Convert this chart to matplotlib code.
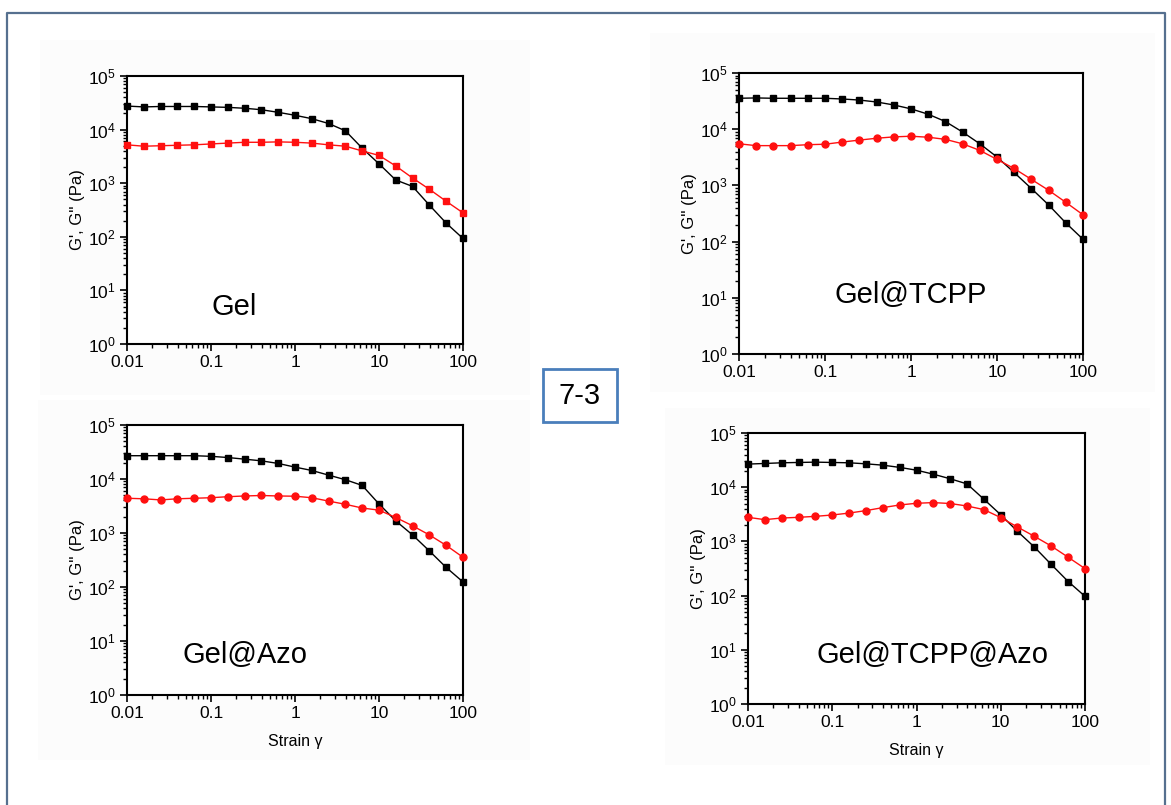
import matplotlib
matplotlib.use('Agg')
import matplotlib.pyplot as plt
from matplotlib.patches import Rectangle

plt.rcParams['font.family'] = ['Liberation Sans', 'DejaVu Sans']
plt.rcParams['mathtext.fontset'] = 'custom'
plt.rcParams['mathtext.rm'] = 'Liberation Sans'

W, H = 1171, 805

# strain amplitude (5 points per decade)
strain = [0.01, 0.0158, 0.0251, 0.0398, 0.0631, 0.1, 0.158, 0.251, 0.398, 0.631,
          1, 1.58, 2.51, 3.98, 6.31, 10, 15.8, 25.1, 39.8, 63.1, 100]

# Gel
gel_G1 = [27500, 26500, 27000, 27000, 27000, 26500, 26000, 25000, 23500, 21000,
          18500, 16000, 13000, 9500, 4500, 2300, 1150, 870, 390, 180, 93]
gel_G2 = [5200, 4900, 5000, 5100, 5200, 5400, 5600, 5800, 5800, 5900,
          5800, 5600, 5200, 4900, 4000, 3300, 2100, 1250, 770, 460, 280]
# Gel@TCPP
tcpp_G1 = [35500, 36000, 35500, 35500, 35500, 35500, 34500, 33000, 30500, 27000,
           23000, 18500, 13700, 8900, 5500, 3200, 1700, 880, 450, 215, 110]
tcpp_G2 = [5500, 5100, 5100, 5100, 5300, 5400, 5900, 6400, 6900, 7300,
           7500, 7200, 6600, 5500, 4200, 2900, 2000, 1280, 820, 500, 300]
# Gel@Azo
azo_G1 = [27000, 27000, 27000, 27000, 27000, 26300, 25000, 23300, 21700, 19400,
          16600, 14400, 11800, 9700, 7600, 3450, 1680, 920, 465, 230, 124]
azo_G2 = [4400, 4300, 4100, 4300, 4400, 4500, 4700, 4850, 4950, 4850,
          4800, 4500, 3900, 3400, 2900, 2650, 1940, 1360, 920, 590, 355]
# Gel@TCPP@Azo
both_G1 = [26700, 27400, 28200, 28600, 29000, 28600, 28200, 27000, 25500, 23200,
           20600, 17400, 14300, 11500, 6000, 3100, 1530, 785, 375, 182, 97]
both_G2 = [2780, 2520, 2700, 2780, 2900, 3070, 3330, 3700, 4200, 4700,
           5050, 5200, 5000, 4500, 3860, 2750, 1840, 1240, 820, 510, 315]

names = ['Gel', 'Gel@TCPP', 'Gel@Azo', 'Gel@TCPP@Azo']
g1_sets = [gel_G1, tcpp_G1, azo_G1, both_G1]
g2_sets = [gel_G2, tcpp_G2, azo_G2, both_G2]
red_marker = ['s', 'o', 'o', 'o']

# axes boxes in pixels: left, top, right, bottom
boxes = [(127, 76, 463, 344), (739, 73, 1083, 354),
         (127, 425, 463, 695), (748, 433, 1085, 704)]
# label centres in pixels
label_pos = [(234, 307), (911, 295), (245, 655), (932, 655)]
# faint backgrounds of the pasted pictures
bg_boxes = [(40, 40, 530, 395), (650, 33, 1155, 392),
            (38, 400, 530, 760), (665, 408, 1150, 765)]

fig = plt.figure(figsize=(W / 100, H / 100), dpi=100)
fig.patch.set_facecolor('white')

def fx(x):
    return x / W

def fy(y):
    return 1 - y / H

for x0, y0, x1, y1 in bg_boxes:
    fig.add_artist(Rectangle((fx(x0), fy(y1)), (x1 - x0) / W, (y1 - y0) / H,
                             transform=fig.transFigure, facecolor='#fcfcfc',
                             edgecolor='none', zorder=0))

for i in range(4):
    l, t, r, b = boxes[i]
    ax = fig.add_axes([fx(l), fy(b), (r - l) / W, (b - t) / H])
    ax.set_facecolor('white')
    ax.plot(strain, g1_sets[i], color='black', lw=1.0, marker='s', ms=4.3,
            clip_on=False, zorder=3)
    ax.plot(strain, g2_sets[i], color='#ff1010', lw=1.0, marker=red_marker[i],
            ms=5 if red_marker[i] == 'o' else 4.3, clip_on=False, zorder=3)
    ax.set_xscale('log')
    ax.set_yscale('log')
    ax.set_xlim(0.01, 100)
    ax.set_ylim(1, 1e5)
    ax.set_xticks([0.01, 0.1, 1, 10, 100])
    ax.set_xticklabels(['0.01', '0.1', '1', '10', '100'])
    for s in ax.spines.values():
        s.set_linewidth(1.5)
    ax.tick_params(which='major', direction='out', length=5, width=1.2,
                   labelsize=12.5, pad=3)
    ax.tick_params(which='minor', direction='out', length=3, width=1.0)
    ax.set_ylabel("G', G'' (Pa)", fontsize=12, labelpad=2)
    if i >= 2:
        ax.set_xlabel('Strain γ', fontsize=11.5, labelpad=9)
    lx, ly = label_pos[i]
    fig.text(fx(lx), fy(ly), names[i], fontsize=21, ha='center', va='center')

# outer frame
fig.add_artist(plt.Line2D([fx(7), fx(7), fx(1165), fx(1165)],
                          [fy(810), fy(13), fy(13), fy(810)],
                          transform=fig.transFigure, color='#56708f', lw=1.6))

# centre tag
fig.add_artist(Rectangle((fx(543), fy(422)), 74 / W, 53 / H,
                         transform=fig.transFigure, facecolor='white',
                         edgecolor='#4a7ebb', lw=2.0, zorder=5))
fig.text(fx(580), fy(396), '7-3', fontsize=21, ha='center', va='center', zorder=6)

fig.savefig('out.png', dpi=100)
